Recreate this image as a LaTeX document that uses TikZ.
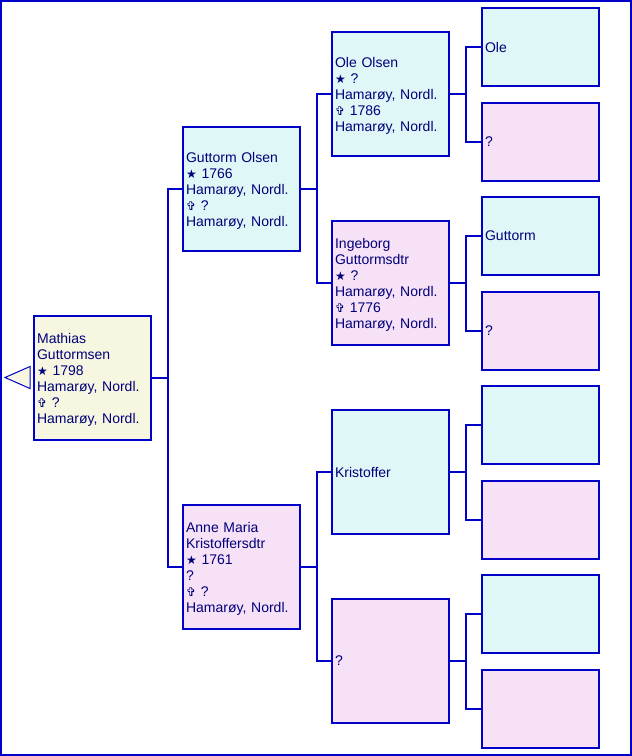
\documentclass[tikz,border=0pt]{standalone}
\usepackage{fontspec}
\setmainfont{Liberation Sans}
\newfontfamily\symfont{DejaVu Sans}
\definecolor{edge}{HTML}{0000C8}
\definecolor{ink}{HTML}{00007A}
\definecolor{cream}{HTML}{F7F7E1}
\definecolor{cyanfill}{HTML}{E0F7F7}
\definecolor{pinkfill}{HTML}{F7E1F7}
\newcommand\bsym{{\symfont\fontsize{12}{16}\selectfont ★}}
\newcommand\dsym{{\symfont\fontsize{12}{16}\selectfont ✞}}
\tikzset{
  person/.style={draw=edge, line width=2.2pt, rectangle, inner xsep=3pt, inner ysep=0pt,
    text width=111pt, align=left, text=ink, font=\fontsize{14}{16}\selectfont, anchor=north west},
  multi/.style={execute at begin node={\rule{0pt}{14pt}}},
  big/.style={person, minimum height=124pt},
  small/.style={person, minimum height=78pt},
  link/.style={draw=edge, line width=2.2pt},
}
\begin{document}
\begin{tikzpicture}[x=1pt,y=-1pt]
\useasboundingbox (0,0) rectangle (632,756);
\draw[edge, line width=2.2pt] (1,1) rectangle (631,755);
% root
\node[big, multi, fill=cream] (root) at (33,315) {Mathias\\Guttormsen\\\bsym\ 1798\\Hamarøy, Nordl.\\\dsym\ ?\\Hamarøy, Nordl.};
\coordinate (tipA) at (5,377.5);
\coordinate (tipB) at (30,366.5);
\coordinate (tipC) at (30,388.5);
\draw[edge, fill=cream, line width=1pt] (tipA) -- (tipB) -- (tipC) -- cycle;
% generation 1
\node[big, multi, fill=cyanfill] (f) at (182,126) {Guttorm Olsen\\\bsym\ 1766\\Hamarøy, Nordl.\\\dsym\ ?\\Hamarøy, Nordl.};
\node[big, multi, fill=pinkfill] (m) at (182,504) {Anne Maria\\Kristoffersdtr\\\bsym\ 1761\\?\\\dsym\ ?\\Hamarøy, Nordl.};
% generation 2
\node[big, multi, fill=cyanfill] (ff) at (331,31) {Ole Olsen\\\bsym\ ?\\Hamarøy, Nordl.\\\dsym\ 1786\\Hamarøy, Nordl.};
\node[big, multi, fill=pinkfill] (fm) at (331,220) {Ingeborg\\Guttormsdtr\\\bsym\ ?\\Hamarøy, Nordl.\\\dsym\ 1776\\Hamarøy, Nordl.};
\node[big, fill=cyanfill] (mf) at (331,409) {Kristoffer};
\node[big, fill=pinkfill] (mm) at (331,598) {?};
% generation 3
\node[small, fill=cyanfill] (fff) at (481,7) {Ole};
\node[small, fill=pinkfill] (ffm) at (481,102) {?};
\node[small, fill=cyanfill] (fmf) at (481,196) {Guttorm};
\node[small, fill=pinkfill] (fmm) at (481,291) {?};
\node[small, fill=cyanfill] (mff) at (481,385) {};
\node[small, fill=pinkfill] (mfm) at (481,480) {};
\node[small, fill=cyanfill] (mmf) at (481,574) {};
\node[small, fill=pinkfill] (mmm) at (481,669) {};
% connectors
\foreach \p/\a/\b in {root/f/m, f/ff/fm, m/mf/mm, ff/fff/ffm, fm/fmf/fmm, mf/mff/mfm, mm/mmf/mmm}{
  \draw[link] (\p.east) -- ++(16,0) |- (\a.west);
  \draw[link] (\p.east) -- ++(16,0) |- (\b.west);
}
\end{tikzpicture}
\end{document}
